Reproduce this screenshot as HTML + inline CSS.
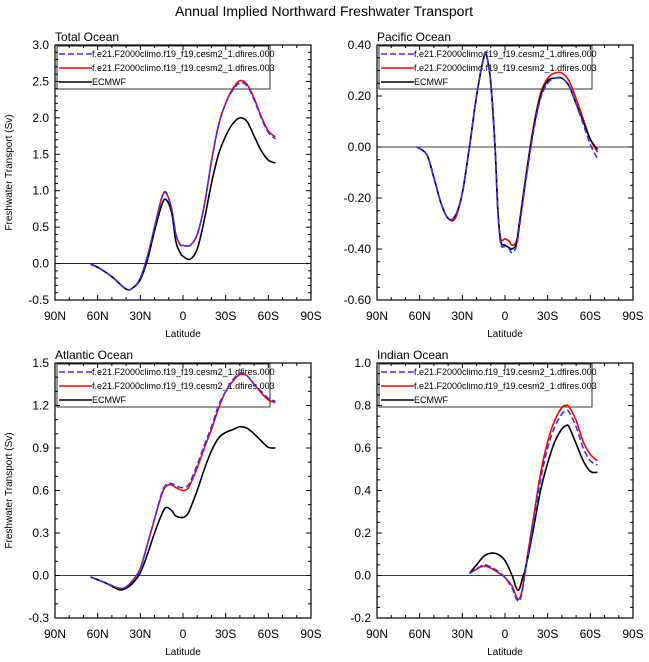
<!DOCTYPE html>
<html><head><meta charset="utf-8"><style>
body{margin:0;background:#fff;}
svg{display:block;font-family:"Liberation Sans",sans-serif;}
</style></head><body>
<svg id="c" width="649" height="662">
<text x="324" y="16" text-anchor="middle" font-size="14">Annual Implied Northward Freshwater Transport</text>
</svg>
<script>
const legendLabels=["f.e21.F2000climo.f19_f19.cesm2_1.dfires.000","f.e21.F2000climo.f19_f19.cesm2_1.dfires.003","ECMWF"];
const xTicks=[90,60,30,0,-30,-60,-90];
const xTickLabels=["90N","60N","30N","0","30S","60S","90S"];
// Total Ocean
const totLat=[65,60,50,40,35,30,25,20,15,12,8,5,2,0,-5,-10,-15,-20,-25,-30,-35,-40,-45,-50,-55,-60,-65];
const totBlue=[-0.01,-0.05,-0.18,-0.35,-0.33,-0.2,0.1,0.5,0.9,0.98,0.75,0.4,0.26,0.25,0.25,0.4,0.8,1.4,1.9,2.2,2.38,2.48,2.44,2.25,2.0,1.8,1.71];
const totRed=[-0.01,-0.05,-0.18,-0.35,-0.33,-0.2,0.1,0.5,0.9,0.97,0.75,0.4,0.26,0.25,0.25,0.4,0.8,1.4,1.9,2.2,2.4,2.51,2.46,2.27,2.02,1.82,1.74];
const totBlack=[-0.01,-0.05,-0.18,-0.35,-0.33,-0.22,0.05,0.45,0.8,0.88,0.7,0.3,0.15,0.1,0.06,0.2,0.6,1.1,1.5,1.75,1.92,2.0,1.95,1.75,1.55,1.42,1.38];
// Pacific
const pacLat=[62,55,50,45,40,35,30,25,20,15,13,10,7,5,3,0,-3,-5,-8,-10,-15,-20,-25,-30,-35,-40,-45,-50,-55,-60,-65];
const pacBlue=[0,-0.03,-0.12,-0.22,-0.28,-0.27,-0.18,0,0.2,0.35,0.36,0.25,0,-0.25,-0.38,-0.39,-0.4,-0.415,-0.39,-0.32,-0.12,0.06,0.19,0.25,0.27,0.27,0.24,0.17,0.09,0.01,-0.045];
const pacRed=[0,-0.03,-0.12,-0.22,-0.28,-0.28,-0.18,0,0.2,0.35,0.36,0.25,0,-0.25,-0.36,-0.36,-0.37,-0.385,-0.37,-0.3,-0.1,0.08,0.21,0.27,0.29,0.29,0.26,0.19,0.11,0.03,-0.02];
const pacBlack=[0,-0.03,-0.12,-0.22,-0.28,-0.27,-0.18,0,0.2,0.35,0.36,0.25,0,-0.25,-0.37,-0.385,-0.395,-0.4,-0.38,-0.31,-0.11,0.07,0.2,0.26,0.27,0.27,0.24,0.17,0.1,0.03,-0.01];
// Atlantic
const atlLat=[65,55,45,40,35,30,25,20,15,12,8,5,0,-3,-5,-10,-15,-20,-25,-30,-35,-40,-45,-50,-55,-60,-65];
const atlBlue=[-0.01,-0.05,-0.09,-0.08,-0.03,0.05,0.22,0.4,0.58,0.64,0.65,0.63,0.62,0.63,0.66,0.78,0.92,1.05,1.2,1.3,1.38,1.43,1.41,1.35,1.3,1.25,1.23];
const atlRed=[-0.01,-0.05,-0.09,-0.08,-0.03,0.05,0.22,0.4,0.57,0.63,0.64,0.62,0.6,0.61,0.64,0.76,0.9,1.03,1.18,1.3,1.37,1.42,1.41,1.35,1.29,1.24,1.22];
const atlBlack=[-0.01,-0.05,-0.1,-0.09,-0.05,0.02,0.15,0.3,0.43,0.48,0.46,0.42,0.41,0.43,0.47,0.6,0.75,0.88,0.97,1.01,1.03,1.05,1.04,1.0,0.95,0.905,0.9];
// Indian
const indLat=[25,20,15,10,5,0,-5,-8,-10,-12,-15,-20,-25,-30,-35,-40,-43,-45,-50,-55,-60,-65];
const indBlue=[0.01,0.03,0.05,0.04,0.02,-0.01,-0.06,-0.11,-0.12,-0.08,0.05,0.25,0.45,0.6,0.7,0.76,0.775,0.77,0.7,0.6,0.54,0.52];
const indRed=[0.01,0.03,0.045,0.035,0.015,-0.01,-0.05,-0.1,-0.11,-0.07,0.06,0.27,0.48,0.63,0.73,0.79,0.8,0.795,0.73,0.63,0.57,0.54];
const indBlack=[0.01,0.05,0.09,0.105,0.1,0.07,0.0,-0.06,-0.065,-0.02,0.05,0.22,0.4,0.53,0.63,0.69,0.705,0.7,0.62,0.54,0.49,0.485];

const panels=[
 {name:"total-ocean",title:"Total Ocean",x0:55,y0:45,ymin:-0.5,ymax:3.0,major:0.5,minor:0.1,dec:1,ylab:true,lat:totLat,s:[totBlue,totRed,totBlack]},
 {name:"pacific-ocean",title:"Pacific Ocean",x0:377,y0:45,ymin:-0.6,ymax:0.4,major:0.2,minor:0.05,dec:2,ylab:false,lat:pacLat,s:[pacBlue,pacRed,pacBlack]},
 {name:"atlantic-ocean",title:"Atlantic Ocean",x0:55,y0:363,ymin:-0.3,ymax:1.5,major:0.3,minor:0.1,dec:1,ylab:true,lat:atlLat,s:[atlBlue,atlRed,atlBlack]},
 {name:"indian-ocean",title:"Indian Ocean",x0:377,y0:363,ymin:-0.2,ymax:1.0,major:0.2,minor:0.05,dec:1,ylab:false,lat:indLat,s:[indBlue,indRed,indBlack]}
];
const W=256,H=255;
const NS="http://www.w3.org/2000/svg";
const svg=document.getElementById('c');
function mk(tag,attrs,parent){const e=document.createElementNS(NS,tag);for(const k in attrs)e.setAttribute(k,attrs[k]);(parent||svg).appendChild(e);return e;}
const colors=["#3333ff","#ff0000","#000000"];
const seriesNames=["series-dfires-000","series-dfires-003","series-ecmwf"];
function smooth(pts){let d="M"+pts[0][0]+","+pts[0][1];for(let i=0;i<pts.length-1;i++){const p0=pts[Math.max(0,i-1)],p1=pts[i],p2=pts[i+1],p3=pts[Math.min(pts.length-1,i+2)];const c1=[p1[0]+(p2[0]-p0[0])/6,p1[1]+(p2[1]-p0[1])/6],c2=[p2[0]-(p3[0]-p1[0])/6,p2[1]-(p3[1]-p1[1])/6];d+=" C"+c1[0].toFixed(2)+","+c1[1].toFixed(2)+" "+c2[0].toFixed(2)+","+c2[1].toFixed(2)+" "+p2[0].toFixed(2)+","+p2[1].toFixed(2);}return d;}
panels.forEach(p=>{
 const g=mk('g',{});
 
 
 const xs=v=>p.x0+(90-v)/180*W;
 const ys=v=>p.y0+H-(v-p.ymin)/(p.ymax-p.ymin)*H;
 const t=mk('text',{x:p.x0,y:p.y0-4,'font-size':12},g);t.textContent=p.title;
 
 // legend (transparent, drawn beneath curves)
 const lg=mk('g',{},g);
 
 mk('rect',{x:p.x0+2,y:p.y0+1,width:213,height:43,fill:'none',stroke:'#333','stroke-width':1},lg);
 legendLabels.forEach((lab,k)=>{const yy=p.y0+9+k*14;
  const a={x1:p.x0+4,x2:p.x0+37,y1:yy,y2:yy,stroke:colors[k],'stroke-width':1.6};if(k==0)a['stroke-dasharray']='6,3';
  mk('line',a,lg);
  const tx=mk('text',{x:p.x0+37,y:yy+3,'font-size':9},lg);tx.textContent=lab;
  });
 // zero line
 const z=mk('line',{x1:p.x0,x2:p.x0+W,y1:ys(0),y2:ys(0),stroke:'#000','stroke-width':0.8},g);
 
 // series: red, black, then blue on top
 [1,2,0].forEach(k=>{
  const vals=p.s[k];
  const pts=p.lat.map((la,i)=>[xs(la),ys(vals[i])]);
  const a={d:smooth(pts),fill:'none',stroke:colors[k],'stroke-width':1.6};
  if(k==0)a['stroke-dasharray']='6,3';
  const el=mk('path',a,g);
  
 });
 // axes box
 const box=mk('rect',{x:p.x0,y:p.y0,width:W,height:H,fill:'none',stroke:'#000','stroke-width':1.2},g);
 
 // x ticks
 for(let v=90;v>=-90;v-=10){const maj=v%30==0;const L=maj?5:3;const x=xs(v);
  mk('line',{x1:x,x2:x,y1:p.y0+H,y2:p.y0+H-L,stroke:'#000'},g);
  mk('line',{x1:x,x2:x,y1:p.y0,y2:p.y0+L,stroke:'#000'},g);}
 xTicks.forEach((v,i)=>{const tx=mk('text',{x:xs(v),y:p.y0+H+20,'font-size':12,'text-anchor':'middle'},g);tx.textContent=xTickLabels[i];
  });
 const xl=mk('text',{x:p.x0+W/2,y:p.y0+H+37,'font-size':10,'text-anchor':'middle'},g);xl.textContent='Latitude';
 
 // y ticks
 const nmin=Math.round((p.ymax-p.ymin)/p.minor);
 for(let i=0;i<=nmin;i++){const v=p.ymin+i*p.minor;const maj=Math.abs(Math.round(v/p.major)*p.major-v)<1e-6;const L=maj?5:3;const y=ys(v);
  mk('line',{x1:p.x0,x2:p.x0+L,y1:y,y2:y,stroke:'#000'},g);
  mk('line',{x1:p.x0+W,x2:p.x0+W-L,y1:y,y2:y,stroke:'#000'},g);
  if(maj){const ty=mk('text',{x:p.x0-6,y:y+4,'font-size':12,'text-anchor':'end'},g);ty.textContent=v.toFixed(p.dec);
   }}
 if(p.ylab){const yt=mk('text',{x:0,y:0,'font-size':10,'text-anchor':'middle',transform:`translate(12,${p.y0+H/2}) rotate(-90)`},g);yt.textContent='Freshwater Transport (Sv)';
  }
});
</script>
</body></html>
